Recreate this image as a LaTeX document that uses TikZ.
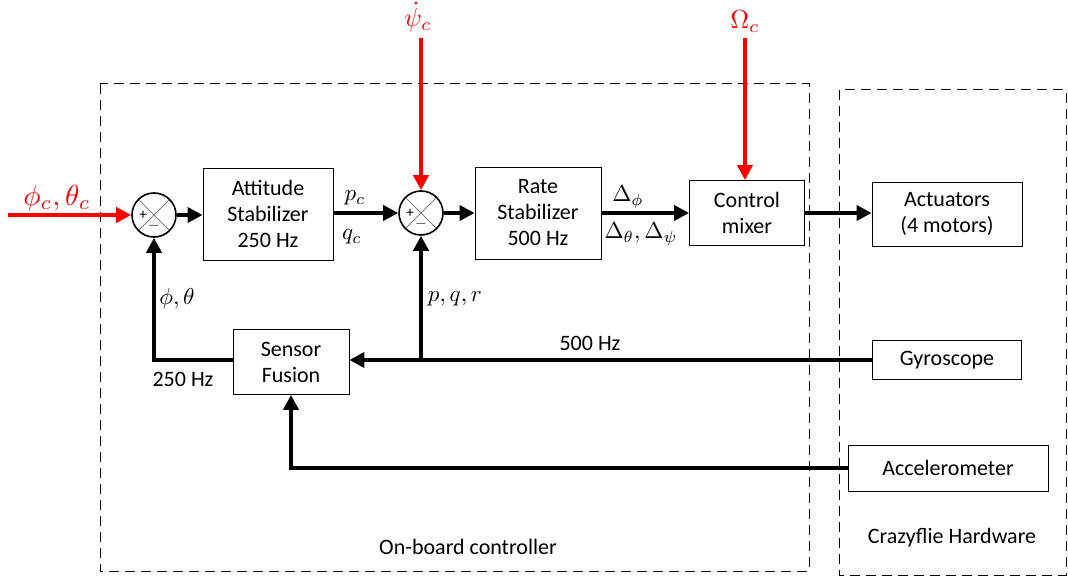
\documentclass[tikz,border=0pt]{standalone}
\usepackage{fontspec}
\setmainfont{Carlito}
\usetikzlibrary{arrows.meta,calc}
\begin{document}
\begin{tikzpicture}[x=1pt,y=-1pt,
  blk/.style={draw, line width=0.8pt, align=center, font=\fontsize{22}{26}\selectfont, inner sep=0pt},
  sumj/.style={circle, draw, line width=1.6pt, minimum size=44pt, inner sep=0pt,
    path picture={\draw[gray,line width=0.9pt] (path picture bounding box.north west)--(path picture bounding box.south east)
      (path picture bounding box.north east)--(path picture bounding box.south west);
      \node[scale=1.5] at ($(path picture bounding box.center)+(-11,0)$) {+};
      \node[scale=1.5] at ($(path picture bounding box.center)+(0,11)$) {$-$};}},
  sig/.style={line width=4.5pt, -{Triangle[length=15pt,width=15pt]}},
  redsig/.style={sig, red},
  lbl/.style={font=\fontsize{22}{26}\selectfont},
  mlbl/.style={scale=2.3},
  rlbl/.style={scale=2.9, text=red},
  frame/.style={line width=1pt, dash pattern=on 10pt off 6pt}
]
\useasboundingbox (0,0) rectangle (1068,577);

% frames
\draw[frame] (100,84) rectangle (809,571);
\draw[frame] (839,90) rectangle (1066,575);
\node[lbl] (obc) at (468,547) {On-board controller};
\node[lbl] (cfh) at (952,538) {Crazyflie Hardware};

% blocks
\node[blk, minimum width=130pt, minimum height=92pt] (att) at (268,214) {Attitude\\Stabilizer\\250 Hz};
\node[blk, minimum width=126pt, minimum height=92pt] (rate) at (538,213) {Rate\\Stabilizer\\500 Hz};
\node[blk, minimum width=115pt, minimum height=65pt] (mix) at (747,213) {Control\\mixer};
\node[blk, minimum width=150pt, minimum height=64pt] (act) at (947,214) {Actuators\\(4 motors)};
\node[blk, minimum width=149pt, minimum height=39pt] (gyro) at (947,360) {Gyroscope};
\node[blk, minimum width=200pt, minimum height=46pt] (acc) at (948,468) {Accelerometer};
\node[blk, minimum width=116pt, minimum height=65pt] (sf) at (291,362) {Sensor\\Fusion};

% summing junctions
\node[sumj] (s1) at (154,215) {};
\node[sumj] (s2) at (421,213) {};

% red inputs
\coordinate (in1) at (8,215);
\coordinate (in2) at (421,38);
\coordinate (in3) at (745,38);
\node[rlbl] (l1) at (57,198) {$\phi_c,\theta_c$};
\node[rlbl, scale=0.9] (l2) at (418,17) {$\dot\psi_c$};
\node[rlbl, scale=0.9] (l3) at (745,22) {$\Omega_c$};
\draw[redsig] (in1) -- (s1);
\draw[redsig] (in2) -- (s2);
\draw[redsig] (in3) -- (mix.north -| in3);

% forward path
\draw[sig] (s1) -- (att.west |- s1);
\draw[sig] (att.east |- s2) -- (s2);
\draw[sig] (s2) -- (rate.west |- s2);
\draw[sig] (rate.east |- mix) -- (mix);
\draw[sig] (mix) -- (act.west |- mix);

% feedback
\coordinate (fb1) at (154,360);
\coordinate (br) at (421,360);
\coordinate (ac1) at (291,468);
\draw[sig] (gyro.west) -- (sf.east |- gyro.west);
\draw[sig] (sf.west |- fb1) -- (fb1) -- (s1);
\draw[sig] (br) -- (s2);
\draw[sig] (acc.west) -- (ac1) -- (sf.south);

% labels
\node[mlbl] (pc) at (355,198) {$p_c$};
\node[mlbl] (qc) at (352,237) {$q_c$};
\node[mlbl] (dphi) at (628,197) {$\Delta_\phi$};
\node[mlbl] (dth) at (641,234) {$\Delta_\theta,\Delta_\psi$};
\node[mlbl] (pt) at (177,299) {$\phi,\theta$};
\node[mlbl] (pqr) at (455,299) {$p,q,r$};
\node[lbl] (f500) at (590,343) {500 Hz};
\node[lbl] (f250) at (183,379) {250 Hz};
\end{tikzpicture}
\end{document}
